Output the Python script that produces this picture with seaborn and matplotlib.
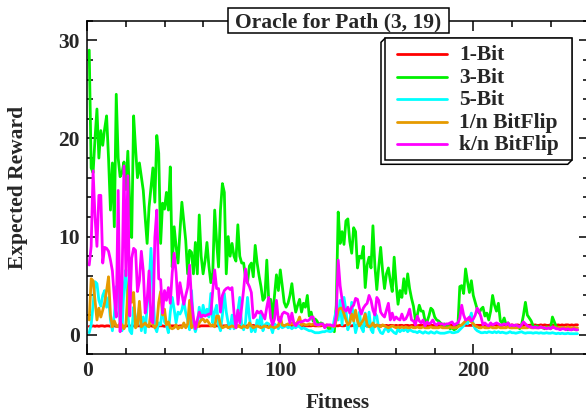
import numpy as np
import pandas as pd
import matplotlib
matplotlib.use("Agg")
import matplotlib.pyplot as plt
import seaborn as sns
from matplotlib.patches import Rectangle, Polygon
from matplotlib.lines import Line2D
from matplotlib.transforms import Affine2D

# ---------------- data ----------------
series_names = ["1-Bit", "3-Bit", "5-Bit", "1/n BitFlip", "k/n BitFlip"]
series_colors = ["#FF0000", "#00F000", "#00FFFF", "#E69A00", "#FF00FF"]
x_ticks = [0, 100, 200]
y_ticks = [0, 10, 20, 30]
title_text = "Oracle for Path (3, 19)"
x_label = "Fitness"
y_label = "Expected Reward"

one_bit = [
    0.85, 0.85, 0.9, 0.85, 0.9, 0.85, 0.9, 0.9, 0.85, 0.9,
    0.9, 0.85, 0.9, 0.9, 0.85, 0.9, 0.9, 0.9, 0.85, 0.9,
    0.9, 0.9, 0.85, 0.9, 0.9, 0.9, 0.9, 0.85, 0.9, 0.9,
    0.9, 0.9, 0.9, 0.85, 0.9, 0.9, 0.9, 0.9, 0.9, 0.85,
    0.9, 0.9, 0.9, 0.9, 0.9, 0.9, 0.85, 0.9, 0.9, 0.9,
    0.9, 0.9, 0.9, 0.9, 0.9, 0.9, 0.9, 0.85, 0.9, 0.9,
    0.9, 0.9, 0.9, 0.9, 0.9, 0.9, 0.9, 0.9, 0.9, 0.9,
    0.9, 0.9, 0.95, 0.9, 0.9, 0.9, 0.9, 0.9, 0.9, 0.9,
    0.9, 0.9, 0.9, 0.9, 0.9, 0.95, 0.9, 0.9, 0.9, 0.9,
    0.9, 0.9, 0.9, 0.9, 0.9, 0.9, 0.9, 0.9, 0.95, 0.9,
    0.9, 0.9, 0.9, 0.9, 0.95, 0.9, 0.9, 0.9, 0.9, 0.9,
    0.95, 0.9, 0.9, 0.9, 0.9, 0.9, 0.95, 0.9, 0.9, 0.9,
    0.9, 0.95, 0.9, 0.9, 0.9, 0.9, 0.95, 0.9, 0.9, 0.9,
    0.95, 0.9, 0.9, 0.95, 0.9, 0.9, 0.9, 0.95, 0.9, 0.9,
    0.95, 0.9, 0.9, 0.95, 0.9, 0.95, 0.9, 0.9, 0.95, 0.9,
    0.95, 0.9, 0.95, 0.9, 0.95, 0.9, 0.95, 0.95, 0.9, 0.95,
    0.9, 0.95, 0.95, 0.9, 0.95, 0.95, 0.9, 0.95, 0.95, 0.95,
    0.9, 0.95, 0.95, 0.95, 0.95, 0.9, 0.95, 0.95, 0.95, 0.95,
    0.95, 0.95, 0.95, 0.95, 0.95, 0.95, 0.95, 0.95, 0.95, 0.95,
    0.95, 0.95, 0.95, 0.95, 0.95, 0.95, 0.95, 0.95, 0.95, 0.95,
    0.95, 0.95, 0.95, 0.95, 1.0, 0.95, 0.95, 0.95, 0.95, 0.95,
    1.0, 0.95, 0.95, 0.95, 0.95, 1.0, 0.95, 0.95, 0.95, 1.0,
    0.95, 0.95, 1.0, 0.95, 0.95, 0.95, 1.0, 0.95, 0.95, 1.0,
    0.95, 1.0, 0.95, 0.95, 1.0, 0.95, 1.0, 0.95, 0.95, 1.0,
    0.95, 1.0, 0.95, 1.0, 0.95, 1.0, 0.95, 1.0, 1.0, 0.95,
    1.0, 0.95, 1.0, 1.0,
]

three_bit = [
    29.0, 17.0, 16.5, 20.0, 23.0, 18.0, 20.8, 19.3, 21.0, 22.3,
    18.0, 12.7, 17.5, 11.0, 24.5, 18.0, 16.1, 16.5, 17.6, 14.8,
    18.7, 13.3, 9.9, 22.3, 19.0, 16.0, 17.5, 16.1, 14.7, 11.9,
    9.3, 13.0, 15.0, 17.0, 13.5, 20.3, 18.5, 9.3, 13.4, 12.8,
    14.5, 12.7, 17.1, 6.9, 11.0, 9.0, 7.3, 10.5, 13.5, 11.5,
    9.6, 6.2, 8.6, 8.4, 6.2, 9.4, 6.2, 12.2, 8.0, 6.2,
    7.5, 9.4, 7.0, 5.3, 6.3, 12.7, 9.5, 6.9, 12.7, 15.4,
    14.5, 6.2, 10.0, 8.0, 9.3, 8.0, 7.5, 11.2, 8.0, 7.3,
    7.3, 5.8, 5.3, 7.0, 7.3, 5.9, 9.1, 7.3, 6.0, 4.9,
    3.5, 3.8, 7.6, 3.5, 3.6, 1.6, 4.0, 6.1, 4.5, 6.6,
    5.0, 3.3, 2.8, 3.2, 4.0, 5.2, 3.5, 2.3, 3.0, 3.6,
    2.3, 3.2, 2.8, 4.0, 1.9, 2.3, 1.4, 1.6, 1.4, 1.0,
    1.2, 1.1, 0.8, 0.9, 0.6, 0.7, 0.5, 0.3, 3.0, 12.5,
    9.3, 10.5, 9.2, 11.6, 11.8, 9.5, 8.3, 10.9, 10.5, 6.8,
    8.0, 7.8, 9.0, 4.8, 7.1, 7.9, 6.8, 11.1, 7.0, 4.6,
    6.9, 8.9, 6.5, 4.7, 6.2, 6.8, 5.5, 4.4, 7.9, 5.2,
    3.1, 4.5, 3.8, 5.7, 4.2, 6.2, 4.7, 3.7, 2.9, 1.5,
    2.0, 3.0, 2.4, 2.4, 1.4, 1.3, 1.9, 2.7, 2.5, 1.8,
    1.5, 1.4, 1.2, 1.0, 1.1, 0.8, 0.9, 0.6, 0.7, 0.5,
    0.6, 0.8, 4.9, 5.0, 4.2, 6.7, 5.4, 4.3, 5.5, 4.0,
    3.3, 2.6, 2.2, 2.6, 2.8, 1.9, 2.2, 1.5, 2.4, 4.0,
    3.0, 2.4, 3.2, 1.4, 1.2, 1.7, 1.0, 1.2, 0.8, 0.7,
    0.9, 0.8, 0.9, 0.6, 1.0, 2.0, 3.3, 2.0, 1.7, 1.4,
    0.9, 0.8, 0.9, 0.7, 0.8, 0.7, 0.6, 0.8, 0.7, 0.6,
    1.8, 1.3, 0.8, 0.7, 0.6, 0.7, 0.6, 0.6, 0.5, 0.6,
    0.5, 0.6, 0.5, 0.5,
]

five_bit = [
    0.2, 1.0, 3.0, 5.4, 5.2, 3.5, 2.9, 4.0, 4.5, 2.8,
    3.8, 1.5, 0.4, 2.0, 4.9, 4.9, 1.2, 0.4, 5.0, 6.6,
    2.0, 0.4, 0.1, 2.8, 1.8, 1.2, 2.9, 0.4, 1.8, 0.2,
    2.9, 5.0, 8.8, 4.5, 0.8, 0.3, 1.2, 1.0, 2.9, 1.3,
    1.0, 0.2, 2.3, 3.8, 2.6, 1.2, 2.3, 2.1, 2.5, 3.5,
    2.2, 1.5, 0.5, 4.5, 1.0, 0.3, 1.0, 2.8, 1.5, 3.0,
    2.0, 2.6, 1.8, 4.2, 1.2, 2.3, 3.0, 1.0, 0.4, 2.0,
    4.2, 2.3, 1.2, 0.6, 2.0, 0.6, 1.0, 2.4, 3.8, 1.0,
    0.5, 1.3, 3.8, 1.8, 0.3, 0.8, 0.3, 1.5, 0.9, 2.2,
    0.4, 1.0, 1.2, 1.1, 0.8, 0.2, 1.1, 0.9, 0.6, 1.0,
    0.7, 0.8, 1.0, 0.7, 0.8, 0.6, 0.8, 0.7, 0.9, 0.8,
    0.6, 0.7, 0.6, 0.5, 0.4, 0.4, 0.3, 0.2, 0.2, 0.2,
    0.25, 0.3, 0.3, 0.4, 0.35, 0.3, 0.4, 1.6, 2.5, 1.5,
    3.5, 1.0, 3.8, 2.5, 0.5, 1.2, 3.3, 1.5, 0.2, 1.0,
    2.3, 0.7, 0.3, 2.2, 0.8, 2.3, 0.5, 0.2, 2.2, 1.9,
    0.6, 0.2, 0.1, 0.5, 0.7, 0.3, 0.6, 0.4, 0.2, 0.1,
    0.6, 0.3, 0.5, 0.4, 0.6, 0.3, 0.5, 0.4, 0.3, 0.3,
    0.2, 0.35, 0.25, 0.15, 0.3, 0.2, 0.15, 0.3, 0.2, 0.15,
    0.3, 0.2, 0.15, 0.15, 0.15, 0.2, 0.25, 0.3, 0.2, 0.2,
    0.25, 0.3, 0.5, 0.7, 0.9, 1.3, 1.1, 1.6, 2.2, 1.0,
    0.6, 0.4, 0.3, 0.2, 0.2, 0.25, 0.2, 0.3, 0.25, 0.2,
    0.3, 0.2, 0.3, 0.2, 0.25, 0.2, 0.15, 0.2, 0.3, 0.2,
    0.2, 0.15, 0.2, 0.25, 0.3, 0.2, 0.15, 0.2, 0.2, 0.2,
    0.15, 0.2, 0.2, 0.15, 0.2, 0.15, 0.15, 0.2, 0.15, 0.15,
    0.2, 0.15, 0.1, 0.15, 0.1, 0.15, 0.1, 0.1, 0.15, 0.1,
    0.1, 0.1, 0.1, 0.1,
]

one_n_flip = [
    1.5, 5.7, 5.5, 3.5, 1.5, 2.7, 1.8, 2.5, 3.3, 4.5,
    5.9, 2.0, 0.8, 1.4, 0.9, 0.8, 1.2, 1.0, 0.6, 1.0,
    4.5, 5.9, 3.3, 4.3, 0.7, 1.0, 3.4, 0.8, 1.0, 1.2,
    0.9, 0.8, 2.5, 1.0, 0.7, 1.0, 3.3, 4.4, 2.0, 2.6,
    1.0, 1.3, 0.7, 0.6, 0.7, 1.0, 0.6, 0.8, 0.7, 1.2,
    0.7, 1.1, 3.5, 0.7, 0.9, 1.0, 0.8, 1.2, 1.5, 1.6,
    1.3, 1.5, 1.2, 0.9, 1.0, 0.8, 1.9, 1.9, 1.0, 0.7,
    0.8, 0.9, 0.7, 0.8, 0.9, 0.8, 0.7, 0.9, 0.8, 0.7,
    0.9, 0.8, 0.7, 1.2, 0.9, 0.7, 0.8, 0.9, 0.8, 0.7,
    0.8, 0.9, 0.8, 0.7, 0.9, 0.8, 0.7, 0.8, 0.9, 1.8,
    1.0, 0.9, 1.0, 1.1, 1.0, 1.2, 1.0, 1.1, 1.3, 1.8,
    1.0, 1.1, 1.0, 1.0, 1.1, 1.0, 1.1, 1.0, 1.0, 0.9,
    1.0, 1.0, 0.9, 1.0, 0.9, 0.9, 0.9, 0.8, 1.5, 2.5,
    2.7, 2.7, 2.1, 1.5, 1.0, 1.2, 2.1, 1.4, 2.5, 1.4,
    0.9, 1.2, 1.5, 2.1, 1.0, 0.8, 0.9, 1.2, 0.8, 1.0,
    0.9, 0.8, 1.0, 0.9, 0.8, 0.7, 0.8, 0.9, 0.8, 0.7,
    0.8, 0.7, 0.8, 0.7, 0.8, 0.7, 0.7, 0.8, 0.7, 0.7,
    0.8, 0.7, 0.7, 0.8, 0.7, 0.7, 0.7, 0.8, 0.7, 0.7,
    0.7, 0.7, 0.8, 0.7, 0.7, 0.7, 0.7, 0.8, 0.7, 0.7,
    0.7, 0.8, 0.9, 1.0, 1.2, 1.4, 1.6, 1.5, 1.3, 1.1,
    0.9, 0.8, 0.7, 0.7, 0.8, 0.7, 0.7, 0.7, 0.8, 0.7,
    0.7, 0.7, 0.8, 0.7, 0.7, 0.7, 0.7, 0.8, 0.7, 0.7,
    0.7, 0.7, 0.7, 0.8, 0.7, 0.7, 0.7, 0.7, 0.8, 0.7,
    0.7, 0.7, 0.7, 0.7, 0.8, 0.7, 0.7, 0.7, 0.7, 0.7,
    0.7, 0.8, 0.7, 0.7, 0.7, 0.7, 0.7, 0.7, 0.8, 0.7,
    0.7, 0.7, 0.7, 0.7,
]

k_n_flip = [
    7.1, 9.0, 16.7, 12.0, 9.0, 14.2, 14.2, 7.3, 8.9, 8.8,
    8.5, 7.6, 6.5, 3.8, 1.8, 14.7, 0.3, 5.3, 17.2, 6.0,
    16.2, 1.9, 7.8, 8.8, 8.6, 4.4, 5.5, 8.5, 6.5, 2.2,
    3.5, 6.5, 1.5, 1.2, 9.9, 12.7, 5.7, 5.6, 2.2, 4.5,
    3.5, 4.8, 3.2, 6.3, 8.3, 6.3, 3.1, 5.3, 4.2, 3.1,
    4.0, 4.8, 7.1, 3.5, 1.7, 0.6, 1.5, 2.3, 1.8, 2.0,
    1.9, 2.0, 2.1, 2.1, 4.5, 6.6, 4.7, 4.7, 2.3, 4.0,
    4.5, 4.7, 4.8, 4.6, 4.8, 2.3, 0.7, 2.5, 1.2, 2.8,
    4.6, 6.7, 5.3, 4.9, 4.3, 1.7, 1.9, 2.4, 2.2, 2.4,
    2.0, 1.6, 2.8, 3.8, 1.7, 1.0, 1.6, 3.5, 1.5, 1.3,
    2.1, 2.3, 2.2, 2.1, 1.2, 2.2, 1.2, 0.9, 1.2, 1.3,
    1.3, 1.4, 1.5, 1.4, 1.5, 1.8, 1.8, 1.1, 1.0, 1.0,
    1.1, 1.1, 0.7, 1.0, 1.0, 1.0, 0.9, 0.9, 2.0, 7.6,
    5.0, 3.6, 2.6, 2.4, 2.8, 2.2, 2.8, 3.0, 3.7, 3.6,
    2.7, 2.1, 2.7, 3.0, 3.2, 4.0, 3.5, 2.5, 2.0, 3.8,
    3.5, 2.3, 2.0, 1.8, 2.5, 3.2, 1.5, 2.2, 1.5, 1.8,
    1.6, 1.5, 2.1, 1.5, 1.6, 2.0, 2.6, 1.5, 1.4, 1.0,
    1.9, 1.4, 1.2, 1.5, 0.9, 1.3, 1.1, 1.2, 1.5, 1.1,
    1.0, 1.2, 1.1, 1.1, 1.0, 1.1, 1.1, 1.2, 1.3, 1.0,
    1.1, 1.2, 1.65, 3.0, 2.0, 1.5, 1.6, 1.8, 1.4, 1.6,
    2.0, 2.7, 2.4, 1.8, 1.0, 1.2, 1.0, 0.9, 1.2, 1.0,
    1.1, 1.2, 1.1, 1.0, 1.0, 1.1, 1.0, 1.2, 0.9, 1.0,
    0.9, 1.0, 0.9, 0.8, 1.0, 1.3, 1.1, 0.9, 0.8, 0.8,
    0.7, 0.8, 0.7, 0.7, 0.8, 0.7, 0.7, 0.6, 0.7, 0.6,
    0.8, 0.7, 0.6, 0.6, 0.5, 0.6, 0.6, 0.5, 0.6, 0.5,
    0.5, 0.6, 0.5, 0.5,
]

series_values = [one_bit, three_bit, five_bit, one_n_flip, k_n_flip]
fitness = list(range(1, len(three_bit) + 1))

df = pd.concat(
    [pd.DataFrame({"Fitness": fitness, "Expected Reward": vals, "Series": name})
     for name, vals in zip(series_names, series_values)],
    ignore_index=True,
)

# ---------------- style ----------------
sns.set_style("ticks")
plt.rcParams["font.family"] = ["Liberation Serif", "DejaVu Serif"]
plt.rcParams["font.weight"] = "bold"
FS = 15.5

W, H = 586, 412
fig = plt.figure(figsize=(W / 100, H / 100), dpi=100)
fig.patch.set_facecolor("white")

left_px, right_px, top_px, bottom_px = 87.3, 589.1, 20.7, 354.3
ax = fig.add_axes([left_px / W, (H - bottom_px) / H,
                   (right_px - left_px) / W, (bottom_px - top_px) / H])
ax.set_facecolor("white")

sns.lineplot(data=df, x="Fitness", y="Expected Reward", hue="Series",
             hue_order=series_names, palette=series_colors,
             estimator=None, sort=False, linewidth=2.0, legend=False, ax=ax)

ax.set_xlim(0, 260)
ax.set_ylim(-2, 32)
ax.set_xticks(x_ticks)
ax.set_yticks(y_ticks)
ax.xaxis.set_minor_locator(matplotlib.ticker.MultipleLocator(20))
ax.yaxis.set_minor_locator(matplotlib.ticker.MultipleLocator(2))
ax.tick_params(which="both", direction="in", top=True, right=True,
               width=1.1, color="black")
ax.tick_params(which="major", length=7.2, labelsize=FS)
ax.tick_params(which="minor", length=4.0)
ax.tick_params(axis="x", which="major", pad=4.5)
ax.tick_params(axis="y", which="major", pad=5.3)
for lab in ax.get_xticklabels() + ax.get_yticklabels():
    lab.set_fontweight("bold")
for sp in ax.spines.values():
    sp.set_visible(True)
    sp.set_linewidth(1.1)
    sp.set_color("black")

ax.set_xlabel("")
ax.set_ylabel("")

# pixel transform (x from left, y from top)
pix = Affine2D().scale(1 / W, -1 / H).translate(0, 1) + fig.transFigure

fig.text(338.2, 408.5, x_label, transform=pix, ha="center", va="baseline",
         fontsize=FS, fontweight="bold")
fig.text(18.5, 187.5, y_label, transform=pix, ha="center", va="center",
         rotation=90, fontsize=FS, fontweight="bold")

# title box
fig.add_artist(Rectangle((228, 8), 221, 25, transform=pix, facecolor="white",
                         edgecolor="black", linewidth=1.1, zorder=5))
fig.text(338.5, 27.3, title_text, transform=pix, ha="center", va="baseline",
         fontsize=FS, fontweight="bold", zorder=6)

# legend box with 3-D shadow
shadow = Polygon([(385, 38.3), (381, 42.3), (381, 164.3), (567.7, 164.3),
                  (571.7, 160.3), (571.7, 38.3)], closed=True, transform=pix,
                 facecolor="white", edgecolor="black", linewidth=1.1, zorder=5)
fig.add_artist(shadow)
fig.add_artist(Rectangle((385, 38.3), 186.7, 122, transform=pix,
                         facecolor="white", edgecolor="black", linewidth=1.1,
                         zorder=6))
line_ys = [54.0, 77.0, 99.0, 121.7, 144.0]
for name, col, ly in zip(series_names, series_colors, line_ys):
    fig.add_artist(Line2D([397.3, 446.7], [ly, ly], transform=pix, color=col,
                          linewidth=2.0, zorder=7))
    fig.text(459.3, ly + 6.3, name, transform=pix, ha="left", va="baseline",
             fontsize=FS, fontweight="bold", zorder=7)

fig.savefig("out.png", dpi=100, facecolor="white")
